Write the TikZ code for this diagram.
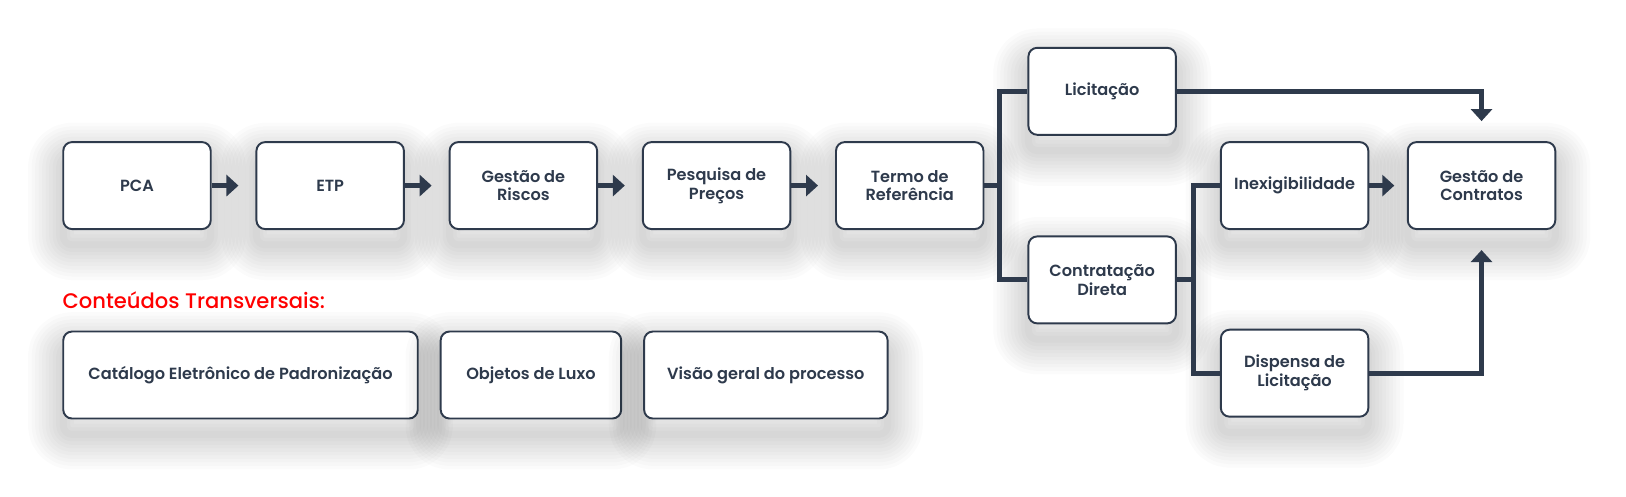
\documentclass[tikz,border=0pt]{standalone}
\usepackage{fontspec}
\setmainfont{Poppins}[BoldFont={Poppins SemiBold}]
\newfontfamily\medfont{Poppins Medium}
\usepackage{tikz}
\usetikzlibrary{arrows.meta,positioning}
\definecolor{Navy}{HTML}{2E3A4C}
\definecolor{Alert}{HTML}{FF0000}

\begin{document}
\begin{tikzpicture}[
  node distance=0.875cm,
  halo/.style={preaction={draw=black,draw opacity=0.017,fill=none,line width=#1,line join=round,transform canvas={yshift=-9pt}}},
  box/.style={rounded corners=5pt,draw=Navy,fill=white,line width=1.1pt,minimum width=2.95cm,minimum height=1.74cm,align=center,text=Navy,font=\fontsize{9.2pt}{10.8pt}\selectfont\bfseries,
    halo=4pt,halo=8pt,halo=12pt,halo=16pt,halo=20pt,halo=24pt,halo=28pt,halo=32pt,halo=36pt,halo=40pt},
  titulo/.style={inner sep=0pt,text=Alert,font=\fontsize{12pt}{14pt}\selectfont\medfont},
  seta/.style={-{Triangle[length=0.24cm,width=0.42cm]},line width=2.8pt,draw=Navy,shorten >=0.34cm},
  linha/.style={line width=2.8pt,draw=Navy}
]
\fill[white] (0,0) rectangle (32.52,-9.94);
\useasboundingbox (0,0) rectangle (32.52,-9.94);
\node[box] (pca) at (2.74,-3.712) {PCA};
\node[box,right=of pca] (etp) {ETP};
\node[box,right=of etp] (riscos) {Gestão de\\Riscos};
\node[box,right=of riscos] (precos) {Pesquisa de\\Preços};
\node[box,right=of precos] (termo) {Termo de\\Referência};
\node[box,right=0.86cm of termo,yshift=1.886cm] (lic) {Licitação};
\node[box,right=0.86cm of termo,yshift=-1.886cm] (contr) {Contratação\\Direta};
\node[box,right=0.86cm of contr,yshift=1.886cm] (inex) {Inexigibilidade};
\node[box,right=0.86cm of contr,yshift=-1.866cm] (disp) {Dispensa de\\Licitação};
\node[box,right=0.75cm of inex] (gestao) {Gestão de\\Contratos};
\node[box,below=2.01cm of pca.south west,anchor=north west,minimum width=7.09cm] (catalogo) {Catálogo Eletrônico de Padronização};
\node[box,right=0.42cm of catalogo,minimum width=3.61cm] (luxo) {Objetos de Luxo};
\node[box,right=0.42cm of luxo,minimum width=4.87cm] (visao) {Visão geral do processo};
\node[titulo,anchor=base west] (transv) at ([yshift=0.44cm]catalogo.north west) {Conteúdos Transversais:};
\draw[seta] (pca) -- (etp);
\draw[seta] (etp) -- (riscos);
\draw[seta] (riscos) -- (precos);
\draw[seta] (precos) -- (termo);
\coordinate (tronco1) at ([xshift=0.3cm]termo.east);
\coordinate (tronco2) at ([xshift=0.33cm]contr.east);
\draw[linha] (termo.east) -- (tronco1);
\draw[linha] (lic.west) -| (tronco1) |- (contr.west);
\draw[linha] (contr.east) -- (tronco2);
\draw[linha] (inex.west) -| (tronco2) |- (disp.west);
\draw[seta,shorten >=0.25cm] (inex) -- (gestao);
\draw[seta,shorten >=0.4cm] (lic.east) -| (gestao.north);
\draw[seta,shorten >=0.4cm] (disp.east) -| (gestao.south);
\end{tikzpicture}
\end{document}
